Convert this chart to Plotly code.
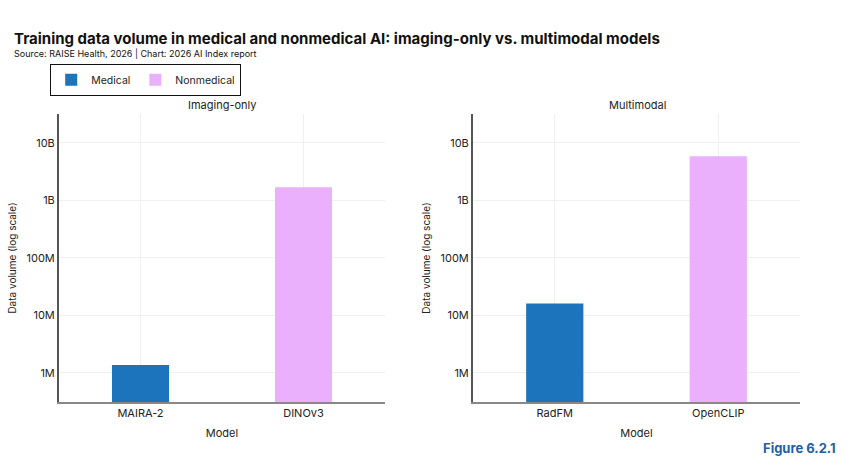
import plotly.graph_objects as go

# ---- data ----
imaging_models = ["MAIRA-2", "DINOv3"]
imaging_values = [1.36e6, 1.69e9]
imaging_types = ["Medical", "Nonmedical"]

multimodal_models = ["RadFM", "OpenCLIP"]
multimodal_values = [1.6e7, 5.85e9]
multimodal_types = ["Medical", "Nonmedical"]

tick_vals = [1e6, 1e7, 1e8, 1e9, 1e10]
tick_text = ["1M", "10M", "100M", "1B", "10B"]

colors = {"Medical": "#1c75bc", "Nonmedical": "#eab0fb"}
FONT = "Inter"

fig = go.Figure()

shown = set()
for models, values, types, xa, ya in [
    (imaging_models, imaging_values, imaging_types, "x", "y"),
    (multimodal_models, multimodal_values, multimodal_types, "x2", "y2"),
]:
    for m, v, t in zip(models, values, types):
        fig.add_trace(go.Bar(
            x=[m], y=[v], name=t, legendgroup=t,
            showlegend=t not in shown,
            marker=dict(color=colors[t], line=dict(width=0)),
            width=0.35, xaxis=xa, yaxis=ya,
        ))
        shown.add(t)

axis_common_x = dict(
    type="category", showgrid=True, gridcolor="#f0f0f0", gridwidth=1,
    showline=True, linecolor="#888888", linewidth=1.5,
    ticks="", tickfont=dict(family=FONT, size=11, color="#222"),
    title=dict(text="Model", font=dict(family=FONT, size=11, color="#222"), standoff=10),
    zeroline=False,
)
axis_common_y = dict(
    type="log", range=[5.49, 10.5], showgrid=True, gridcolor="#f0f0f0", gridwidth=1,
    showline=True, linecolor="#555555", linewidth=2,
    tickvals=tick_vals, ticktext=tick_text, ticks="",
    tickfont=dict(family=FONT, size=11, color="#222"),
    title=dict(text="Data volume (log scale)", font=dict(family=FONT, size=10, color="#222"), standoff=8),
    zeroline=False,
)

W, H = 850, 468
def fx(px): return px / W
def fy(py): return 1 - py / H

fig.update_layout(
    width=W, height=H,
    margin=dict(l=0, r=0, t=0, b=0),
    paper_bgcolor="white", plot_bgcolor="white",
    barmode="overlay",
    font=dict(family=FONT, color="#222"),
    xaxis=dict(axis_common_x, domain=[fx(59), fx(385)], anchor="y",
               categoryorder="array", categoryarray=imaging_models),
    yaxis=dict(axis_common_y, domain=[fy(402), fy(114)], anchor="x"),
    xaxis2=dict(axis_common_x, domain=[fx(473), fx(800)], anchor="y2",
                categoryorder="array", categoryarray=multimodal_models),
    yaxis2=dict(axis_common_y, domain=[fy(402), fy(114)], anchor="x2"),
    legend=dict(orientation="h", x=fx(50), y=fy(64), xanchor="left", yanchor="top",
                bordercolor="#111", borderwidth=1.2, itemwidth=30,
                font=dict(family=FONT, size=10.5, color="#222"), traceorder="normal"),
    showlegend=True,
)

ann = [
    dict(text="<b>Training data volume in medical and nonmedical AI: imaging-only vs. multimodal models</b>",
         x=fx(12), y=fy(38), xanchor="left", yanchor="middle",
         font=dict(family=FONT, size=15, color="#111")),
    dict(text="Source: RAISE Health, 2026 | Chart: 2026 AI Index report",
         x=fx(12), y=fy(53), xanchor="left", yanchor="middle",
         font=dict(family=FONT, size=9, color="#111")),
    dict(text="Imaging-only", x=fx(222), y=fy(105), xanchor="center", yanchor="middle",
         font=dict(family=FONT, size=11, color="#222")),
    dict(text="Multimodal", x=fx(637), y=fy(105), xanchor="center", yanchor="middle",
         font=dict(family=FONT, size=11, color="#222")),
    dict(text="<b>Figure 6.2.1</b>", x=fx(838), y=fy(448), xanchor="right", yanchor="middle",
         font=dict(family=FONT, size=13, color="#1f5fa8")),
]
for a in ann:
    a.update(xref="paper", yref="paper", showarrow=False)
fig.update_layout(annotations=ann)

fig.write_html("out.html")
